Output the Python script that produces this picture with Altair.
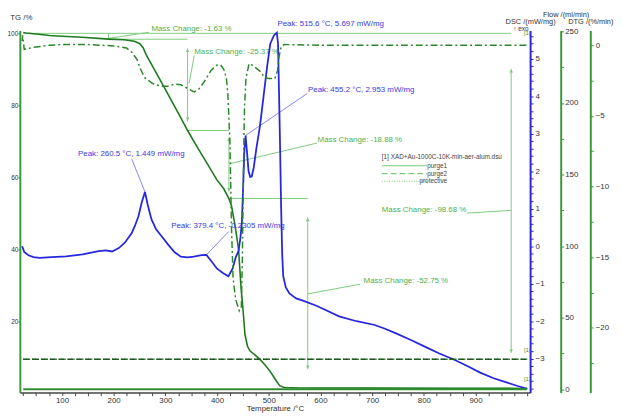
import altair as alt
import pandas as pd

FONT = "Liberation Sans"

# ---------------- data ----------------
# TG curve (Temperature °C, mass %)
tg_temp = [25, 30, 50, 76, 100, 139, 190, 220, 240, 250, 257, 263, 270, 300, 330, 343,
           362, 381, 400, 413, 423, 428, 435, 441.6, 446.6, 450, 454, 459, 464, 472,
           483, 492, 502, 512, 521, 530, 560, 700, 850, 1000]
tg_mass = [100.2, 100.1, 99.8, 99.4, 99.2, 98.9, 98.4, 98.2, 97.8, 97.2, 96.0, 94.0, 92.2, 84.4, 76.5, 73.0,
           68.3, 63.8, 59.2, 56.8, 54.1, 52.0, 46.4, 40.0, 29.0, 23.6, 16.3, 13.0, 11.7, 10.8,
           9.4, 8.0, 6.2, 4.0, 2.1, 1.6, 1.45, 1.4, 1.35, 1.32]

# DTG curve (%/min)
dtg_temp = [23, 24, 27, 45, 76, 100, 150, 200, 225, 235, 245, 252, 260, 275, 290, 305, 318, 330,
            345, 356, 365, 375, 388, 400, 407, 413, 418, 421, 425, 428, 431, 436, 443, 447,
            449, 451, 453, 456, 462, 466, 475, 485, 492, 500, 512, 517, 520, 524, 530, 600,
            700, 800, 900, 1000]
dtg_val = [0.3, 0.7, -0.3, -0.15, 0.0, 0.05, 0.05, -0.05, -0.2, -0.5, -1.0, -1.7, -2.3, -2.7, -2.9, -2.9, -2.75, -2.8,
           -3.1, -3.3, -3.1, -2.6, -1.8, -1.4, -1.4, -1.7, -2.3, -3.5, -7.0, -13.0, -16.5, -18.0, -18.8, -18.5,
           -15.0, -9.0, -4.5, -2.3, -1.3, -1.35, -1.6, -1.9, -2.3, -2.35, -2.35, -1.8, -0.8, -0.1, 0.05, 0.0,
           0.0, 0.0, 0.0, 0.0]

# DSC curve (mW/mg)
dsc_temp = [23, 27, 35, 45, 57, 80, 108, 140, 171, 185, 197, 210, 222, 235, 241, 248, 254, 260.5,
            266, 273, 282, 292, 305, 318, 330, 343, 355, 370, 379.4, 388, 400, 412, 422, 430,
            436, 441.6, 445, 448, 451, 453, 455.2, 458, 461, 464, 467, 471, 476, 483, 490, 497,
            503, 510, 515.6, 518, 520, 522, 524, 526, 528, 533, 540, 553, 566, 591, 610, 636,
            670, 705, 725, 744, 775, 807, 830, 858, 885, 909, 935, 960, 980, 1000]
dsc_val = [0.0, -0.15, -0.24, -0.29, -0.31, -0.29, -0.27, -0.22, -0.13, -0.11, -0.14, -0.05, 0.1, 0.35, 0.54, 0.8, 1.15, 1.449,
           1.1, 0.72, 0.45, 0.28, 0.05, -0.16, -0.28, -0.3, -0.28, -0.24, -0.2305, -0.38, -0.6, -0.72, -0.8, -0.6,
           -0.3, -0.12, 0.2, 0.63, 1.8, 2.6, 2.953, 2.5, 2.0, 1.85, 1.86, 2.1, 2.6, 3.2, 4.0, 4.8,
           5.4, 5.62, 5.697, 5.4, 4.0, 2.6, 1.0, -0.2, -0.8, -1.1, -1.26, -1.39, -1.45, -1.58, -1.7, -1.87,
           -2.0, -2.1, -2.2, -2.31, -2.5, -2.71, -2.86, -3.02, -3.2, -3.37, -3.52, -3.63, -3.72, -3.8]

# Flow curves (ml/min)
flow_temp = [25, 1000]
purge1 = [0, 0]
purge2 = [21, 21]
protective = [21, 21]

# Mass change annotations (TG scale)
mc_labels = ["Mass Change: -1.63 %", "Mass Change: -25.37 %", "Mass Change: -18.88 %",
             "Mass Change: -52.75 %", "Mass Change: -98.68 %"]
mc_label_t = [273, 356, 594.5, 683.5, 718.7]
mc_label_tg = [101.2, 94.8, 70.3, 31.2, 50.9]
mc_leader = [(190.4, 98.6, 268.6, 100.3), (356, 93.9, 346, 86.1), (425.2, 63.8, 593, 69.5),
             (575.5, 27.6, 677.2, 30.3), (883.4, 50.05, 968.4, 50.8)]
guide_t1 = [28, 190, 343, 423, 575.5]
guide_t2 = [969, 343, 423, 575.5, 969]
guide_tg = [100.0, 98.37, 73.0, 54.12, 1.37]
arrow_t = [343, 423, 575.5, 969]
arrow_top = [98.37, 73.0, 54.12, 100.0]
arrow_bot = [73.0, 54.12, 1.37, 1.32]
small_arrow = (190, 100.0, 98.37)

# DSC peak annotations
peak_labels = ["Peak: 260.5 °C, 1.449 mW/mg", "Peak: 379.4 °C, -0.2305 mW/mg",
               "Peak: 455.2 °C, 2.953 mW/mg", "Peak: 515.6 °C, 5.697 mW/mg"]
peak_t = [260.5, 379.4, 455.2, 515.6]
peak_v = [1.449, -0.2305, 2.953, 5.697]
peak_label_t = [131.2, 311.2, 576, 516.8]
peak_label_v = [2.458, 0.526, 4.176, 5.913]
peak_leader_t = [235, 422.7, 574.1]
peak_leader_v = [2.326, 0.395, 4.07]

# Legend block (TG scale)
legend_title = "[1] XAD+Au-1000C-10K-min-aer-alum.dsu"
legend_names = ["purge1", "purge2", "protective"]
legend_tg = [63.2, 61.0, 58.9]

# ---------------- styles ----------------
TG_COL = "#1f7a1f"
AX_GREEN = "#3a9a3a"
ANN_GREEN = "#4fb04f"
ANN_LINE = "#7dcc7d"
DTG_COL = "#2a872a"
FLOW_COL = "#1d5a1d"
BLUE = "#2727dd"
BLUE_TXT = "#3a3ae6"
BLUE_LINE = "#8585f2"
LAB = "#333333"

X_SCALE = alt.Scale(domain=[18.5, 1005.6], nice=False, zero=False)
x_ticks = [25 * i for i in range(1, 41)]
X_AXIS = alt.Axis(values=x_ticks, labelExpr="datum.value % 100 === 0 && datum.value < 1000 ? datum.label : ''",
                  format="d", labelOverlap=False, grid=False, tickSize=3, labelPadding=1,
                  domainColor="#444444", domainWidth=1.5, tickColor="#444444", labelColor=LAB,
                  labelFontSize=8, titleFontSize=8, titleFontWeight="normal", titleColor=LAB,
                  titleY=16, titleBaseline="middle")


def xenc(field="t"):
    return alt.X(f"{field}:Q", scale=X_SCALE, axis=X_AXIS, title="Temperature /°C")


def x2enc(field="t2"):
    return alt.X2(f"{field}:Q")


TG_SCALE = alt.Scale(domain=[0.16, 100.82], nice=False, zero=False)
TG_AXIS = alt.Axis(orient="left", values=[20, 40, 60, 80, 100], grid=False, tickSize=2, labelPadding=0,
                   domainColor=AX_GREEN, domainWidth=2, tickColor=AX_GREEN, labelColor=LAB,
                   labelFontSize=6.6, titleFontSize=8, titleFontWeight="normal", titleColor=LAB,
                   titleAngle=0, titleX=1, titleY=-13, titleAlign="center", titleBaseline="middle")

DSC_SCALE = alt.Scale(domain=[-3.903, 5.755], nice=False, zero=False)
dsc_ticks = [round(-3.8 + 0.2 * i, 1) for i in range(48)]
DSC_AXIS = alt.Axis(orient="right", offset=0, values=dsc_ticks,
                    labelExpr="abs(datum.value - round(datum.value)) < 0.001 ? format(datum.value, 'd') : ''",
                    labelOverlap=False, grid=False, tickSize=3, labelPadding=2,
                    domainColor=BLUE, domainWidth=2, tickColor=BLUE, labelColor=LAB,
                    labelFontSize=8, titleFontSize=7.5, titleFontWeight="normal", titleColor=LAB,
                    titleAngle=0, titleX=0, titleY=-9, titleAlign="center", titleBaseline="middle")

FLOW_SCALE = alt.Scale(domain=[-2.27, 250.7], nice=False, zero=False)
flow_ticks = [25 * i for i in range(11)]
FLOW_AXIS = alt.Axis(orient="right", offset=31, values=flow_ticks,
                     labelExpr="datum.value % 50 === 0 ? datum.label : ''", format="d",
                     labelOverlap=False, grid=False, tickSize=3, labelPadding=1,
                     domainColor=AX_GREEN, domainWidth=2, tickColor=AX_GREEN, labelColor=LAB,
                     labelFontSize=8, titleFontSize=7.5, titleFontWeight="normal", titleColor=LAB,
                     titleAngle=0, titleX=5, titleY=-16.5, titleAlign="center", titleBaseline="middle")

DTG_SCALE = alt.Scale(domain=[-24.59, 1.05], nice=False, zero=False)
dtg_ticks = [round(-22.5 + 2.5 * i, 1) for i in range(10)]
DTG_AXIS = alt.Axis(orient="right", offset=61, values=dtg_ticks,
                    labelExpr="abs(datum.value % 5) < 0.001 ? format(datum.value, 'd') : ''",
                    labelOverlap=False, grid=False, tickSize=3, labelPadding=2,
                    domainColor=AX_GREEN, domainWidth=2, tickColor=AX_GREEN, labelColor=LAB,
                    labelFontSize=8, titleFontSize=7.5, titleFontWeight="normal", titleColor=LAB,
                    titleAngle=0, titleX=0, titleY=-9, titleAlign="center", titleBaseline="middle")


def ytg(field="v"):
    return alt.Y(f"{field}:Q", scale=TG_SCALE, axis=TG_AXIS, title="TG /%")


def ydsc(field="v"):
    return alt.Y(f"{field}:Q", scale=DSC_SCALE, axis=DSC_AXIS, title="DSC /(mW/mg)")


def yflow(field="v"):
    return alt.Y(f"{field}:Q", scale=FLOW_SCALE, axis=FLOW_AXIS, title="Flow /(ml/min)")


def ydtg(field="v"):
    return alt.Y(f"{field}:Q", scale=DTG_SCALE, axis=DTG_AXIS, title="DTG /(%/min)")


# ---------------- TG group ----------------
df_tg = pd.DataFrame({"t": tg_temp, "v": tg_mass})

seg_rows = []
for a, b, y in zip(guide_t1, guide_t2, guide_tg):
    seg_rows.append({"t": a, "t2": b, "v": y, "v2": y})
for (t1, y1, t2, y2) in mc_leader:
    seg_rows.append({"t": t1, "t2": t2, "v": y1, "v2": y2})
seg_rows.append({"t": small_arrow[0], "t2": small_arrow[0], "v": small_arrow[1], "v2": small_arrow[2]})
head_up, head_down = [], []
for t, top, bot in zip(arrow_t, arrow_top, arrow_bot):
    inset = 0.1 * (top - bot)
    seg_rows.append({"t": t, "t2": t, "v": top - inset, "v2": bot + inset})
    head_up.append({"t": t, "v": top - inset - 0.6})
    head_down.append({"t": t, "v": bot + inset + 0.6})
df_seg = pd.DataFrame(seg_rows)

df_mc = pd.DataFrame({"t": mc_label_t, "v": mc_label_tg, "label": mc_labels})

leg_x1, leg_x2, leg_name_x = 718.6, 806.5, 845.2
df_leg_lines = pd.DataFrame({"t": [leg_x1] * 3, "t2": [leg_x2] * 3, "v": legend_tg, "v2": legend_tg,
                             "name": legend_names})
df_leg_names = pd.DataFrame({"t": [leg_name_x] * 3, "v": legend_tg, "label": legend_names})
df_leg_title = pd.DataFrame({"t": [leg_x1], "v": [65.7], "label": [legend_title]})

tg_segments = alt.Chart(df_seg).mark_rule(color=ANN_LINE, strokeWidth=1).encode(
    x=xenc(), x2=x2enc(), y=ytg(), y2=alt.Y2("v2:Q"))
tg_heads_up = alt.Chart(pd.DataFrame(head_up)).mark_point(
    shape="triangle-up", filled=True, size=14, color=ANN_LINE, opacity=1).encode(x=xenc(), y=ytg())
tg_heads_down = alt.Chart(pd.DataFrame(head_down)).mark_point(
    shape="triangle-down", filled=True, size=14, color=ANN_LINE, opacity=1).encode(x=xenc(), y=ytg())
tg_mc_text = alt.Chart(df_mc).mark_text(align="left", baseline="middle", fontSize=8, color=ANN_GREEN,
                                         font=FONT).encode(x=xenc(), y=ytg(), text="label:N")
leg_solid = alt.Chart(df_leg_lines.iloc[[0]]).mark_rule(color=ANN_LINE, strokeWidth=1.2).encode(
    x=xenc(), x2=x2enc(), y=ytg(), y2=alt.Y2("v2:Q"))
leg_dash = alt.Chart(df_leg_lines.iloc[[1]]).mark_rule(color=ANN_LINE, strokeWidth=1.2, strokeDash=[6, 3]).encode(
    x=xenc(), x2=x2enc(), y=ytg(), y2=alt.Y2("v2:Q"))
leg_dot = alt.Chart(df_leg_lines.iloc[[2]]).mark_rule(color=ANN_LINE, strokeWidth=1.2, strokeDash=[1, 1.5]).encode(
    x=xenc(), x2=x2enc(), y=ytg(), y2=alt.Y2("v2:Q"))
leg_names = alt.Chart(df_leg_names).mark_text(align="right", baseline="middle", fontSize=6.5, color="#444444",
                                              font=FONT).encode(x=xenc(), y=ytg(), text="label:N")
leg_title = alt.Chart(df_leg_title).mark_text(align="left", baseline="middle", fontSize=6.5, color="#444444",
                                              font=FONT).encode(x=xenc(), y=ytg(), text="label:N")
tg_line = alt.Chart(df_tg).mark_line(color=TG_COL, strokeWidth=1.6).encode(x=xenc(), y=ytg())

tg_group = alt.layer(tg_segments, tg_heads_up, tg_heads_down, tg_mc_text,
                     leg_solid, leg_dash, leg_dot, leg_names, leg_title, tg_line)

# ---------------- Flow group ----------------
df_p1 = pd.DataFrame({"t": flow_temp, "v": purge1})
df_p2 = pd.DataFrame({"t": flow_temp, "v": purge2})
df_pr = pd.DataFrame({"t": flow_temp, "v": protective})
df_flow_tags = pd.DataFrame({"t": [1000, 1000], "v": [27.4, 6.9], "label": ["[1]", "[1]"]})
flow_p1 = alt.Chart(df_p1).mark_line(color="#2f8f2f", strokeWidth=2).encode(x=xenc(), y=yflow())
flow_p2 = alt.Chart(df_p2).mark_line(color=FLOW_COL, strokeWidth=1.6, strokeDash=[6, 3]).encode(x=xenc(), y=yflow())
flow_pr = alt.Chart(df_pr).mark_line(color=FLOW_COL, strokeWidth=1.6, strokeDash=[1, 2]).encode(x=xenc(), y=yflow())
flow_tags = alt.Chart(df_flow_tags).mark_text(align="center", baseline="middle", fontSize=6, color=AX_GREEN,
                                              font=FONT).encode(x=xenc(), y=yflow(), text="label:N")
flow_group = alt.layer(flow_p1, flow_p2, flow_pr, flow_tags)

# ---------------- DTG group ----------------
df_dtg = pd.DataFrame({"t": dtg_temp, "v": dtg_val})
df_dtg_tag = pd.DataFrame({"t": [1000], "v": [0.84], "label": ["[1]"]})
dtg_line = alt.Chart(df_dtg).mark_line(color=DTG_COL, strokeWidth=1.5, strokeDash=[7, 3, 2, 3]).encode(
    x=xenc(), y=ydtg())
dtg_tag = alt.Chart(df_dtg_tag).mark_text(align="center", baseline="middle", fontSize=6, color=AX_GREEN,
                                          font=FONT).encode(x=xenc(), y=ydtg(), text="label:N")
dtg_group = alt.layer(dtg_line, dtg_tag)

# ---------------- DSC group ----------------
df_dsc = pd.DataFrame({"t": dsc_temp, "v": dsc_val})
df_pk_lead = pd.DataFrame({"t": peak_t[:3], "v": peak_v[:3], "t2": peak_leader_t, "v2": peak_leader_v})
df_pk_text = pd.DataFrame({"t": peak_label_t, "v": peak_label_v, "label": peak_labels})
df_exo = pd.DataFrame({"t": [1002.5], "v": [5.80], "label": ["↑ exo"]})
dsc_leads = alt.Chart(df_pk_lead).mark_rule(color=BLUE_LINE, strokeWidth=1).encode(
    x=xenc(), x2=x2enc(), y=ydsc(), y2=alt.Y2("v2:Q"))
dsc_text = alt.Chart(df_pk_text).mark_text(align="left", baseline="middle", fontSize=8, color=BLUE_TXT,
                                           font=FONT).encode(x=xenc(), y=ydsc(), text="label:N")
dsc_exo = alt.Chart(df_exo).mark_text(align="right", baseline="middle", fontSize=6.5, color=LAB,
                                      font=FONT).encode(x=xenc(), y=ydsc(), text="label:N")
dsc_line = alt.Chart(df_dsc).mark_line(color=BLUE, strokeWidth=1.8).encode(x=xenc(), y=ydsc())
dsc_group = alt.layer(dsc_leads, dsc_text, dsc_exo, dsc_line)

chart = alt.layer(tg_group, dsc_group, flow_group, dtg_group).resolve_scale(y="independent").properties(
    width=517, height=367,
    padding={"left": 12, "top": 20, "right": 85, "bottom": 20},
    autosize=alt.AutoSizeParams(type="none"),
    background="white",
).configure(font=FONT).configure_view(stroke=None)

chart.save("out.html", embed_options={"renderer": "svg", "actions": False})
